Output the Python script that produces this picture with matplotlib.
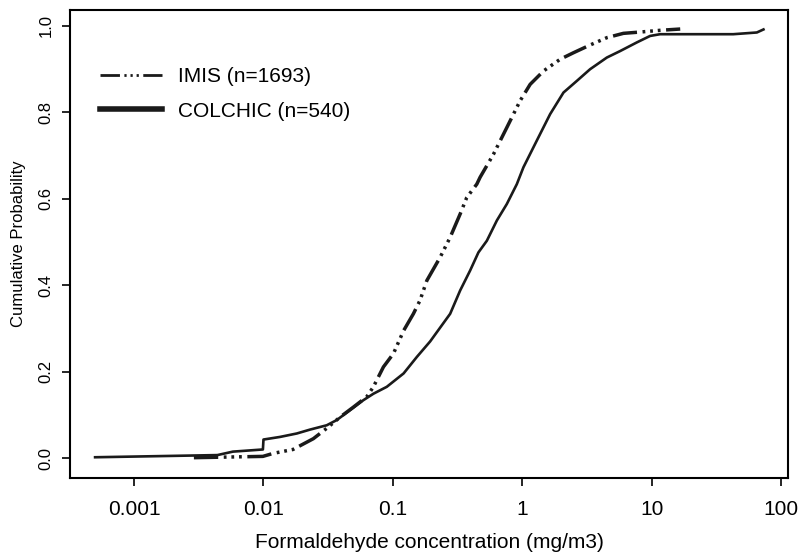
import matplotlib
matplotlib.use("Agg")
import matplotlib.pyplot as plt
from matplotlib.lines import Line2D

plt.rcParams["font.family"] = ["Liberation Sans", "DejaVu Sans"]

# values (concentration mg/m3, cumulative probability)
colchic_x = [0.0005, 0.0044, 0.0058, 0.0099, 0.01, 0.0134, 0.0181, 0.0229, 0.0308,
             0.0368, 0.0467, 0.0591, 0.0707, 0.0897, 0.121, 0.153, 0.194, 0.277,
             0.331, 0.395, 0.458, 0.532, 0.636, 0.759, 0.907, 1.02, 1.29, 1.64,
             2.08, 2.64, 3.34, 4.50, 5.70, 7.67, 9.72, 11.6, 42.6, 64.9, 73.0]
colchic_y = [0.002, 0.007, 0.015, 0.020, 0.043, 0.049, 0.057, 0.066, 0.076,
             0.088, 0.111, 0.134, 0.149, 0.165, 0.196, 0.234, 0.270, 0.334,
             0.388, 0.434, 0.476, 0.503, 0.550, 0.588, 0.634, 0.673, 0.734, 0.796,
             0.846, 0.873, 0.900, 0.927, 0.942, 0.962, 0.977, 0.981, 0.981, 0.985, 0.992]

imis_x = [0.0029, 0.0099, 0.0119, 0.0169, 0.0243, 0.0308, 0.0391, 0.0495, 0.0628,
          0.0707, 0.0845, 0.101, 0.121, 0.144, 0.162, 0.183, 0.232, 0.277, 0.331,
          0.372, 0.445, 0.472, 0.598, 0.759, 0.962, 1.15, 1.46, 1.96, 2.48, 3.34,
          4.50, 6.04, 8.13, 11.6, 16.6]
imis_y = [0.001, 0.004, 0.011, 0.020, 0.045, 0.069, 0.095, 0.118, 0.142,
          0.165, 0.211, 0.242, 0.295, 0.334, 0.365, 0.411, 0.465, 0.511, 0.565,
          0.603, 0.634, 0.650, 0.703, 0.765, 0.827, 0.865, 0.896, 0.923, 0.938, 0.956,
          0.973, 0.983, 0.986, 0.990, 0.993]

labels = ["IMIS (n=1693)", "COLCHIC (n=540)"]
xticks = [0.001, 0.01, 0.1, 1, 10, 100]
xticklabels = ["0.001", "0.01", "0.1", "1", "10", "100"]
yticks = [0.0, 0.2, 0.4, 0.6, 0.8, 1.0]

imis_dash = (7, 1.6, 0.8, 1.4, 0.8, 1.4, 0.8, 1.6)

fig = plt.figure(figsize=(8.01, 5.56), dpi=100)
ax = fig.add_axes([0.0874, 0.1403, 0.8964, 0.8417])

ax.plot(imis_x, imis_y, color="#1a1a1a", lw=2.5, dashes=imis_dash, solid_capstyle="butt")
ax.plot(colchic_x, colchic_y, color="#1a1a1a", lw=1.9)

ax.set_xscale("log")
ax.set_xlim(0.00032, 113)
ax.set_ylim(-0.046, 1.037)
ax.set_xticks(xticks)
ax.set_xticklabels(xticklabels)
ax.minorticks_off()
ax.set_yticks(yticks)
ax.set_yticklabels(["0.0", "0.2", "0.4", "0.6", "0.8", "1.0"], rotation=90, va="center")
ax.tick_params(axis="x", direction="out", length=6, width=1.2, labelsize=15, pad=10)
ax.tick_params(axis="y", direction="out", length=6, width=1.2, labelsize=12, pad=6)
for s in ax.spines.values():
    s.set_linewidth(1.5)
ax.set_xlabel("Formaldehyde concentration (mg/m3)", fontsize=15, labelpad=10)
ax.set_ylabel("Cumulative Probability", fontsize=12, labelpad=9)

handles = [Line2D([], [], color="#1a1a1a", lw=2.0, dashes=(7, 1.6, 0.8, 1.4, 0.8, 1.4, 0.8, 1.6)),
           Line2D([], [], color="#1a1a1a", lw=4.0)]
ax.legend(handles, labels, loc="upper left", bbox_to_anchor=(0.015, 0.918), frameon=False,
          fontsize=15, handlelength=3.0, handletextpad=0.75, labelspacing=0.75)

fig.savefig("out.png", dpi=100)
